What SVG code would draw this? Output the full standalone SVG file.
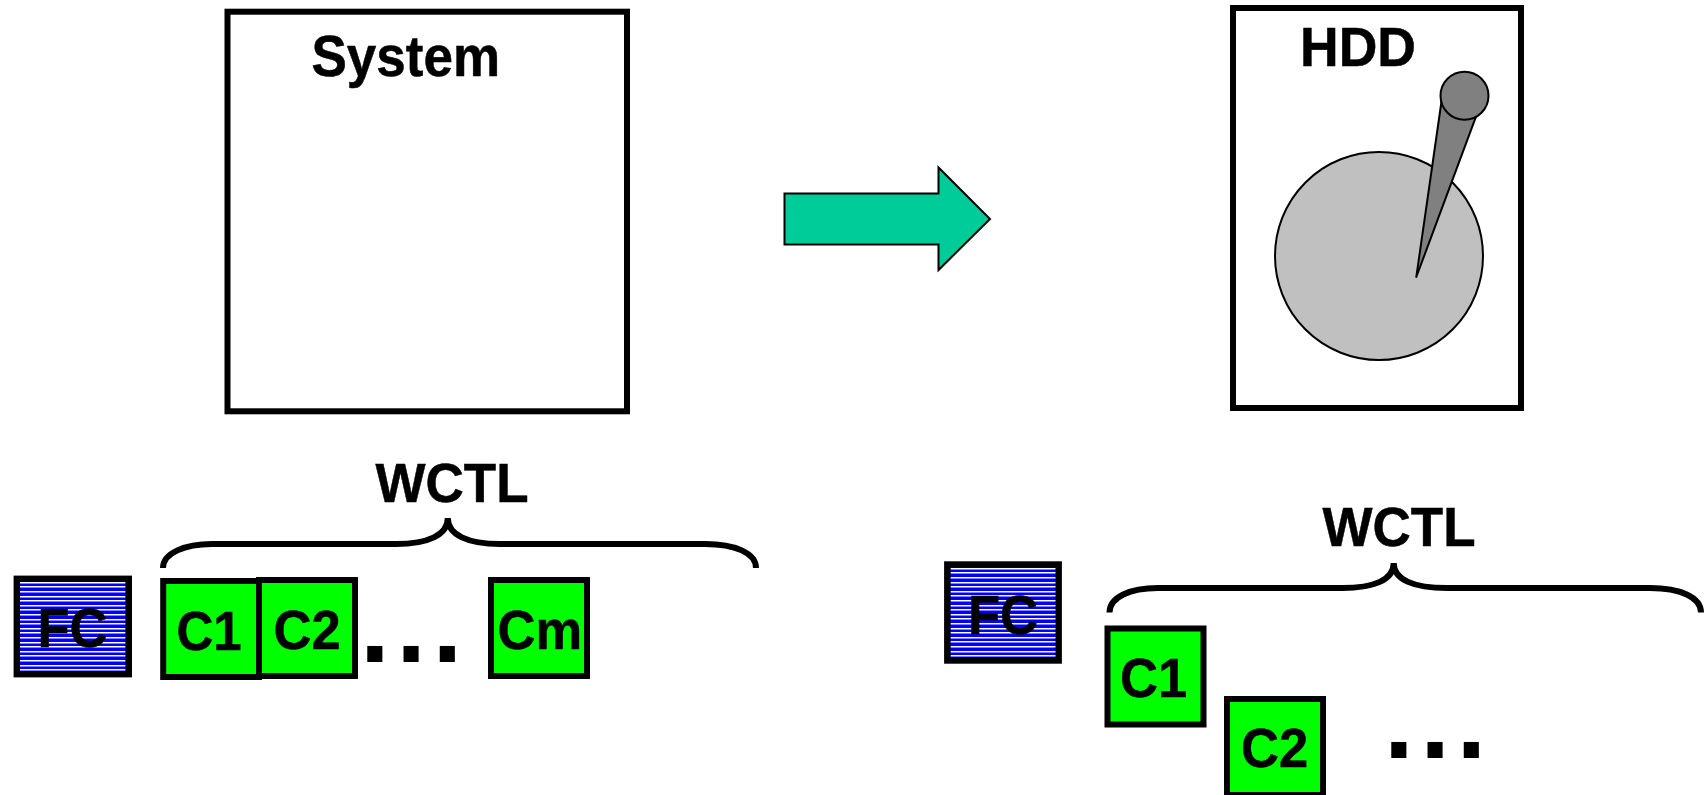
<svg xmlns="http://www.w3.org/2000/svg" width="1706" height="795" viewBox="0 0 1706 795">
<style>
.t{font-family:"Liberation Sans",Arial,sans-serif;font-weight:700;fill:#000;stroke:#000;stroke-width:.5}
.b{fill:#fff;stroke:#000;stroke-width:6}
.c{fill:#00ff00;stroke:#000;stroke-width:6}
.f{fill:none;stroke:#000;stroke-width:6.4}
.u{fill:#0000ff}
.w{fill:none;stroke:#fff;stroke-width:1.5}
.br{fill:none;stroke:#000;stroke-width:6}
.s{font-size:52.5px}
.d{font-size:107px;letter-spacing:6.5px;stroke:none}
</style>
<defs>
<path id="stripes" class="w" d="M20 582.75H125.5M20 586.75H125.5M20 591.75H125.5M20 596.75H125.5M20 600.75H125.5M20 605.75H125.5M20 609.75H125.5M20 614.75H125.5M20 619.75H125.5M20 623.75H125.5M20 628.75H125.5M20 632.75H125.5M20 637.75H125.5M20 642.75H125.5M20 646.75H125.5M20 651.75H125.5M20 655.75H125.5M20 660.75H125.5M20 665.75H125.5M20 669.75H125.5"/>
</defs>
<rect width="1706" height="795" fill="#fff"/>
<g id="system"><rect class="b" x="227.5" y="11.7" width="399.5" height="399.6"/><text class="t" font-size="53" transform="translate(311.5 76) scale(1 1.09)">System</text></g>
<g id="hdd">
<rect class="b" x="1233" y="8" width="288" height="400"/>
<text class="t" font-size="53.5" transform="translate(1300 65.7) scale(1 1.03)">HDD</text>
<circle cx="1379" cy="256" r="104" fill="#c0c0c0" stroke="#000" stroke-width="2"/>
<polygon points="1416.3,277 1441.7,100 1476,116.7" fill="#808080" stroke="#000" stroke-width="2" stroke-linejoin="round"/>
<circle cx="1464.5" cy="95.7" r="24" fill="#808080" stroke="#000" stroke-width="2"/>
</g>
<g id="connectors">
<polygon id="arrow" points="784.5,193.5 938.5,193.5 938.5,167.5 990,219 938.5,270 938.5,244.5 784.5,244.5" fill="#00cc99" stroke="#000" stroke-width="2"/>
</g>
<g id="left-wctl">
<text class="t" font-size="53" transform="translate(375.5 501.5) scale(1 1.03)">WCTL</text>
<path class="br" d="M163 568C163 553 185 544 212 544H396C428 544 447.8 535 447.8 518C447.8 535 468 544 500 544H705C735 544 756 553 756 568"/>
</g>
<g id="left-fc"><rect class="u" x="16.8" y="578.8" width="112" height="95.4"/><use href="#stripes"/><rect class="f" x="16.8" y="578.8" width="112" height="95.4"/><text class="t s" transform="translate(37.5 646.5) scale(1 1.07)">FC</text></g>
<g id="left-c2"><rect class="c" x="259" y="580" width="96" height="96"/></g>
<g id="left-c1"><rect class="c" x="163.2" y="581" width="95.8" height="96"/><text class="t s" transform="translate(176.6 650) scale(.97 1.07)">C1</text></g>
<text class="t s" transform="translate(273.6 649) scale(1 1.07)">C2</text>
<text class="t d" x="360" y="662">...</text>
<g id="left-cm"><rect class="c" x="491" y="580" width="96" height="96"/><text class="t s" transform="translate(497.5 649) scale(1 1.07)">Cm</text></g>
<g id="right-wctl">
<text class="t" font-size="53" transform="translate(1322.5 546) scale(1 1.03)">WCTL</text>
<path class="br" d="M1109.5 612.5C1109.5 597 1130 588 1158 588H1342C1374 588 1393.7 580 1393.7 563C1393.7 580 1414 588 1447 588H1650C1680 588 1701 597 1701 612.5"/>
</g>
<g id="right-fc"><rect class="u" x="947.3" y="564.5" width="111.4" height="96"/><use href="#stripes" transform="translate(930.5 -14)"/><rect class="f" x="947.3" y="564.5" width="111.4" height="96"/><text class="t s" transform="translate(968 633.5) scale(1 1.07)">FC</text></g>
<g id="right-c1"><rect class="c" x="1107.5" y="628.5" width="96" height="96"/><text class="t s" transform="translate(1120 696.5) scale(1 1.07)">C1</text></g>
<g id="right-c2"><rect class="c" x="1227" y="699" width="96" height="96"/><text class="t s" transform="translate(1241 766.5) scale(1 1.07)">C2</text></g>
<text class="t d" x="1384" y="757.5">...</text>
</svg>
